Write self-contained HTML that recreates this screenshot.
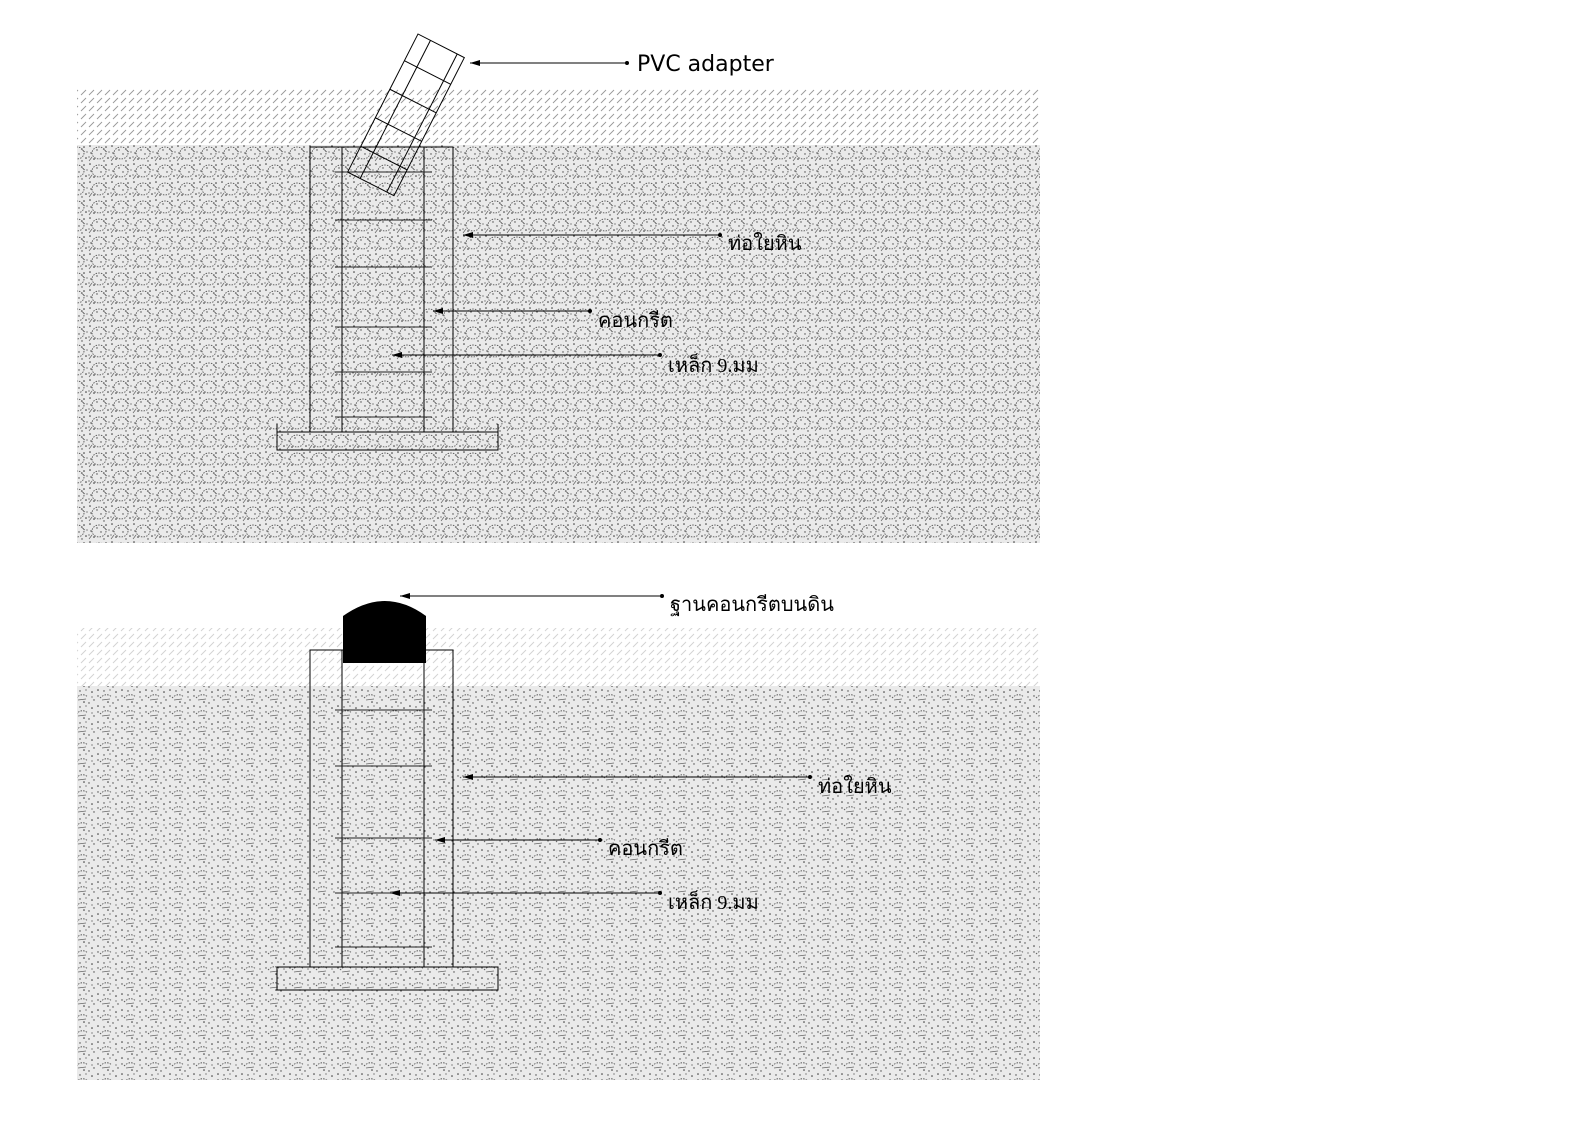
<!DOCTYPE html>
<html><head><meta charset="utf-8"><style>
html,body{margin:0;padding:0;background:#fff}
svg{display:block}
.t{font-family:"Liberation Serif","Noto Serif CJK SC",serif;font-size:20px;fill:#000}
</style></head><body>
<svg width="1587" height="1122" viewBox="0 0 1587 1122" xmlns="http://www.w3.org/2000/svg">
<defs>
<pattern id="hatch" width="8" height="8" patternUnits="userSpaceOnUse">
<line x1="1" y1="7" x2="6" y2="2" stroke="#999" stroke-width="0.9"/>
</pattern>
<pattern id="sp" width="22" height="18" patternUnits="userSpaceOnUse">
<rect width="22" height="18" fill="#eaeaea"/>
<ellipse cx="11" cy="9" rx="7" ry="6" fill="none" stroke="#555" stroke-width="0.9" stroke-dasharray="1.5 1.2"/>
<circle cx="2" cy="2" r="0.8" fill="#333"/><circle cx="6" cy="15" r="0.8" fill="#333"/>
<circle cx="18" cy="3" r="0.8" fill="#333"/><circle cx="13" cy="10" r="0.7" fill="#444"/>
<circle cx="20" cy="14" r="0.8" fill="#333"/><circle cx="9" cy="6" r="0.7" fill="#444"/>
<circle cx="3" cy="9" r="0.7" fill="#444"/><circle cx="16" cy="17" r="0.7" fill="#444"/>
<circle cx="21" cy="8" r="0.6" fill="#444"/><circle cx="1" cy="13" r="0.6" fill="#444"/>
<line x1="1" y1="17" x2="4" y2="13" stroke="#666" stroke-width="0.7"/>
<line x1="15" y1="5" x2="19" y2="8" stroke="#666" stroke-width="0.7"/>
</pattern>
<pattern id="sp2" width="24" height="16" patternUnits="userSpaceOnUse">
<rect width="24" height="16" fill="#eaeaea"/>
<path d="M4 10 Q10 4 16 9" fill="none" stroke="#555" stroke-width="0.9" stroke-dasharray="1.5 1.2"/>
<path d="M6 12 L14 11" stroke="#666" stroke-width="0.7"/>
<circle cx="2" cy="2" r="0.8" fill="#333"/><circle cx="20" cy="4" r="0.8" fill="#333"/>
<circle cx="12" cy="14" r="0.8" fill="#333"/><circle cx="22" cy="12" r="0.7" fill="#444"/>
<circle cx="8" cy="3" r="0.7" fill="#444"/><circle cx="17" cy="15" r="0.7" fill="#444"/>
<circle cx="2" cy="8" r="0.7" fill="#444"/><circle cx="14" cy="2" r="0.6" fill="#444"/>
<circle cx="20" cy="9" r="0.6" fill="#444"/>
</pattern>
<marker id="ar" markerWidth="10" markerHeight="6" refX="0" refY="3" orient="auto"><path d="M0 3 L10 0 L10 6 Z" fill="#000"/></marker>
</defs>

<!-- top diagram -->
<rect x="77" y="88" width="963" height="57" fill="url(#hatch)"/>
<rect x="77" y="145" width="963" height="398" fill="url(#sp)"/>
<g stroke="#000" stroke-width="1" fill="none">
<rect x="310" y="147" width="143" height="285"/>
<line x1="342" y1="147" x2="342" y2="432"/>
<line x1="424" y1="147" x2="424" y2="432"/>
<path d="M277 424 V450 H498 V424"/>
<line x1="277" y1="432" x2="498" y2="432"/>
<g stroke="#222">
<line x1="335" y1="172" x2="432" y2="172"/><line x1="335" y1="220" x2="432" y2="220"/>
<line x1="335" y1="267" x2="432" y2="267"/><line x1="335" y1="327" x2="432" y2="327"/>
<line x1="335" y1="372" x2="432" y2="372"/><line x1="335" y1="417" x2="432" y2="417"/>
</g>
<!-- pipe -->
<g transform="translate(418,34) rotate(27)">
<rect x="0" y="0" width="52" height="155" fill="none"/>
<line x1="14" y1="0" x2="14" y2="155"/>
<line x1="44" y1="0" x2="44" y2="155"/>
<line x1="0" y1="30" x2="52" y2="30"/><line x1="0" y1="62" x2="52" y2="62"/>
<line x1="0" y1="94" x2="52" y2="94"/><line x1="0" y1="126" x2="52" y2="126"/>
</g>
<!-- leaders -->
<line x1="470" y1="63" x2="627" y2="63" marker-start="url(#ar)"/>
<line x1="463" y1="235" x2="720" y2="235" marker-start="url(#ar)"/>
<line x1="433" y1="311" x2="590" y2="311" marker-start="url(#ar)"/>
<line x1="392" y1="355" x2="660" y2="355" marker-start="url(#ar)"/>
</g>
<g fill="#000"><circle cx="627" cy="63" r="2"/><circle cx="720" cy="235" r="2"/><circle cx="590" cy="311" r="2"/><circle cx="660" cy="355" r="2"/></g>
<text x="637" y="71" style="font-family:'DejaVu Sans','Liberation Sans',sans-serif;font-size:22px">PVC adapter</text>
<text class="t" x="728" y="250">ท่อใยหิน</text>
<text class="t" x="598" y="327">คอนกรีต</text>
<text class="t" x="668" y="372">เหล็ก 9.มม</text>

<!-- bottom diagram -->
<rect x="77" y="628" width="963" height="58" fill="url(#hatch)" opacity="0.45"/>
<rect x="77" y="686" width="963" height="394" fill="url(#sp2)"/>
<g stroke="#000" stroke-width="1" fill="none">
<rect x="310" y="650" width="143" height="317"/>
<line x1="342" y1="650" x2="342" y2="967"/>
<line x1="424" y1="650" x2="424" y2="967"/>
<rect x="277" y="967" width="221" height="23"/>
<g stroke="#222">
<line x1="335" y1="710" x2="432" y2="710"/><line x1="335" y1="766" x2="432" y2="766"/>
<line x1="335" y1="838" x2="432" y2="838"/><line x1="335" y1="893" x2="432" y2="893"/>
<line x1="335" y1="947" x2="432" y2="947"/>
</g>
<line x1="400" y1="596" x2="662" y2="596" marker-start="url(#ar)"/>
<line x1="463" y1="777" x2="810" y2="777" marker-start="url(#ar)"/>
<line x1="435" y1="840" x2="600" y2="840" marker-start="url(#ar)"/>
<line x1="390" y1="893" x2="660" y2="893" marker-start="url(#ar)"/>
</g>
<path d="M343 616 Q385 586 426 616 V663 H343 Z" fill="#000"/>
<g fill="#000"><circle cx="662" cy="596" r="2"/><circle cx="810" cy="777" r="2"/><circle cx="600" cy="840" r="2"/><circle cx="660" cy="893" r="2"/></g>
<text class="t" x="670" y="611">ฐานคอนกรีตบนดิน</text>
<text class="t" x="818" y="793">ท่อใยหิน</text>
<text class="t" x="608" y="855">คอนกรีต</text>
<text class="t" x="668" y="909">เหล็ก 9.มม</text>
</svg>
</body></html>
